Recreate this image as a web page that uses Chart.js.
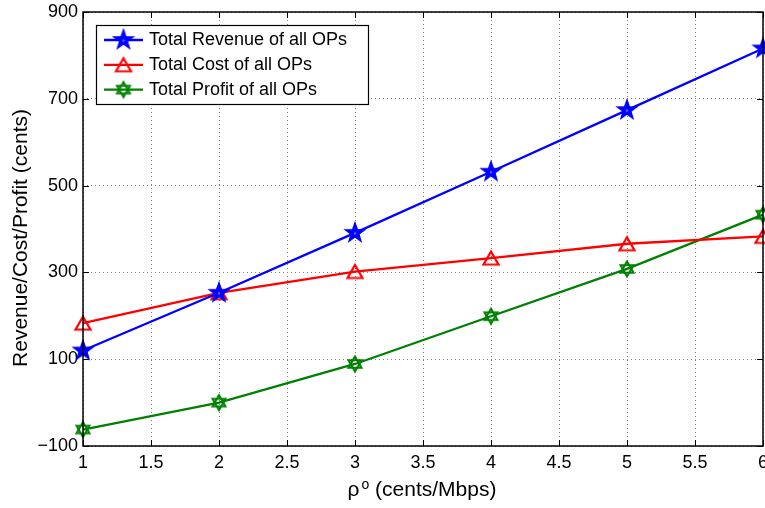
<!DOCTYPE html>
<html>
<head>
<meta charset="utf-8">
<script src="https://cdn.jsdelivr.net/npm/chart.js@4/dist/chart.umd.min.js"></script>
<style>
  html, body { margin: 0; padding: 0; background: #fff; }
  canvas { display: block; }
</style>
</head>
<body>
<canvas id="chart" width="765" height="508"></canvas>
<script>
// price per Mbps
const rho = [1, 2, 3, 4, 5, 6];
const revenue = [120, 253, 391, 532, 674, 816];
const cost = [183, 253, 302, 333, 366, 383];
const profit = [-62, 0, 89, 199, 308, 433];

const xTicks = [1, 1.5, 2, 2.5, 3, 3.5, 4, 4.5, 5, 5.5, 6];
const yTicks = [-100, 100, 300, 500, 700, 900];

const seriesNames = ['Total Revenue of all OPs', 'Total Cost of all OPs', 'Total Profit of all OPs'];

const FONT = '"Liberation Sans", Arial, Helvetica, sans-serif';

function markerCanvas(size, draw) {
    const c = document.createElement('canvas');
    c.width = size;
    c.height = size;
    const g = c.getContext('2d');
    g.translate(size / 2, size / 2);
    draw(g);
    return c;
}

const starMarker = markerCanvas(26, g => {
    const R = 10, r = 4;
    g.beginPath();
    for (let i = 0; i < 10; i++) {
        const a = -Math.PI / 2 + i * Math.PI / 5;
        const rr = i % 2 ? r : R;
        g.lineTo(rr * Math.cos(a), rr * Math.sin(a));
    }
    g.closePath();
    g.fillStyle = '#0000ff';
    g.fill();
    g.strokeStyle = '#0000ff';
    g.lineWidth = 1.5;
    g.stroke();
    // small light centre
    g.beginPath();
    g.arc(0, 0.5, 1.3, 0, Math.PI * 2);
    g.fillStyle = 'rgba(120,120,255,0.8)';
    g.fill();
});

const triangleMarker = markerCanvas(24, g => {
    g.beginPath();
    g.moveTo(0, -6.5);
    g.lineTo(7.5, 6.5);
    g.lineTo(-7.5, 6.5);
    g.closePath();
    g.strokeStyle = '#ff0000';
    g.lineWidth = 2.2;
    g.stroke();
});

const hexagramMarker = markerCanvas(24, g => {
    const R = 7.5;
    g.strokeStyle = '#008000';
    g.lineWidth = 2;
    for (const off of [-Math.PI / 2, Math.PI / 2]) {
        g.beginPath();
        for (let i = 0; i < 3; i++) {
            const a = off + i * 2 * Math.PI / 3;
            g.lineTo(R * Math.cos(a), R * Math.sin(a));
        }
        g.closePath();
        g.stroke();
    }
});

function toPoints(values) {
    return rho.map((x, i) => ({ x: x, y: values[i] }));
}

// axes box, inward ticks, legend and axis titles
const decorations = {
    id: 'decorations',
    afterDraw(chart) {
        const ctx = chart.ctx;
        const a = chart.chartArea;
        const xs = chart.scales.x, ys = chart.scales.y;
        ctx.save();

        ctx.strokeStyle = '#000';
        ctx.lineWidth = 1;
        ctx.beginPath();
        const tl = 6;
        xTicks.forEach(v => {
            const px = Math.round(xs.getPixelForValue(v)) + 0.5;
            ctx.moveTo(px, a.bottom); ctx.lineTo(px, a.bottom - tl);
            ctx.moveTo(px, a.top); ctx.lineTo(px, a.top + tl);
        });
        yTicks.forEach(v => {
            const py = Math.round(ys.getPixelForValue(v)) + 0.5;
            ctx.moveTo(a.left, py); ctx.lineTo(a.left + tl, py);
            ctx.moveTo(a.right, py); ctx.lineTo(a.right - tl, py);
        });
        ctx.stroke();

        ctx.lineWidth = 1.5;
        ctx.strokeRect(a.left, a.top, a.right - a.left, a.bottom - a.top);

        // legend
        const lx = 96.5, ly = 25.5, lw = 272, lh = 79;
        ctx.fillStyle = '#fff';
        ctx.fillRect(lx, ly, lw, lh);
        ctx.lineWidth = 1.2;
        ctx.strokeRect(lx, ly, lw, lh);
        ctx.font = '18px ' + FONT;
        ctx.textBaseline = 'middle';
        ctx.textAlign = 'left';
        chart.data.datasets.forEach((ds, i) => {
            const y = 40 + i * 24.8;
            ctx.strokeStyle = ds.borderColor;
            ctx.lineWidth = ds.borderWidth;
            ctx.beginPath();
            ctx.moveTo(104, y);
            ctx.lineTo(143, y);
            ctx.stroke();
            const m = ds.pointStyle;
            ctx.drawImage(m, 123.5 - m.width / 2, y - m.height / 2);
            ctx.fillStyle = '#000';
            ctx.fillText(ds.label, 149, y);
        });

        // x title with superscript
        ctx.fillStyle = '#000';
        ctx.textBaseline = 'alphabetic';
        const big = '21px ' + FONT, small = '14px ' + FONT;
        ctx.font = big;
        const w1 = ctx.measureText('\u03C1').width;
        const w3 = ctx.measureText(' (cents/Mbps)').width;
        ctx.font = small;
        const w2 = ctx.measureText('o').width;
        let x0 = 422 - (w1 + 2 + w2 + w3) / 2;
        ctx.font = big;
        ctx.fillText('\u03C1', x0, 496);
        ctx.font = small;
        ctx.fillText('o', x0 + w1 + 2, 489);
        ctx.font = big;
        ctx.fillText(' (cents/Mbps)', x0 + w1 + 2 + w2, 496);

        // y title
        ctx.translate(27, 238);
        ctx.rotate(-Math.PI / 2);
        ctx.textAlign = 'center';
        ctx.font = big;
        ctx.fillText('Revenue/Cost/Profit (cents)', 0, 0);

        ctx.restore();
    }
};

new Chart(document.getElementById('chart'), {
    type: 'line',
    data: {
        datasets: [
            {
                label: seriesNames[0],
                data: toPoints(revenue),
                borderColor: '#0000ff',
                pointStyle: starMarker
            },
            {
                label: seriesNames[1],
                data: toPoints(cost),
                borderColor: '#ff0000',
                pointStyle: triangleMarker
            },
            {
                label: seriesNames[2],
                data: toPoints(profit),
                borderColor: '#008000',
                pointStyle: hexagramMarker
            }
        ].map(ds => ({
            ...ds,
            borderWidth: 2.3,
            fill: false,
            tension: 0,
            pointRadius: 8,
            clip: false
        }))
    },
    options: {
        responsive: false,
        animation: false,
        devicePixelRatio: 1,
        layout: { autoPadding: false, padding: { top: 12, right: 2, left: 0, bottom: 0 } },
        plugins: {
            legend: { display: false },
            tooltip: { enabled: false }
        },
        scales: {
            x: {
                type: 'linear',
                min: 1,
                max: 6,
                afterBuildTicks: s => { s.ticks = xTicks.map(v => ({ value: v })); },
                afterFit: s => { s.height = 62; s.paddingLeft = 0; s.paddingRight = 0; },
                ticks: {
                    color: '#000',
                    font: { family: FONT, size: 18 },
                    padding: 6,
                    maxRotation: 0,
                    autoSkip: false,
                    callback: v => String(v)
                },
                grid: {
                    color: '#808080',
                    lineWidth: 1,
                    drawTicks: false
                },
                border: { display: false, dash: [1, 3] }
            },
            y: {
                type: 'linear',
                min: -100,
                max: 900,
                afterBuildTicks: s => { s.ticks = yTicks.map(v => ({ value: v })); },
                afterFit: s => { s.width = 83; s.paddingTop = 0; s.paddingBottom = 0; },
                ticks: {
                    color: '#000',
                    font: { family: FONT, size: 18 },
                    padding: 5,
                    autoSkip: false,
                    callback: v => v < 0 ? '\u2212' + Math.abs(v) : String(v)
                },
                grid: {
                    color: '#808080',
                    lineWidth: 1,
                    drawTicks: false
                },
                border: { display: false, dash: [1, 3] }
            }
        }
    },
    plugins: [decorations]
});
</script>
</body>
</html>
